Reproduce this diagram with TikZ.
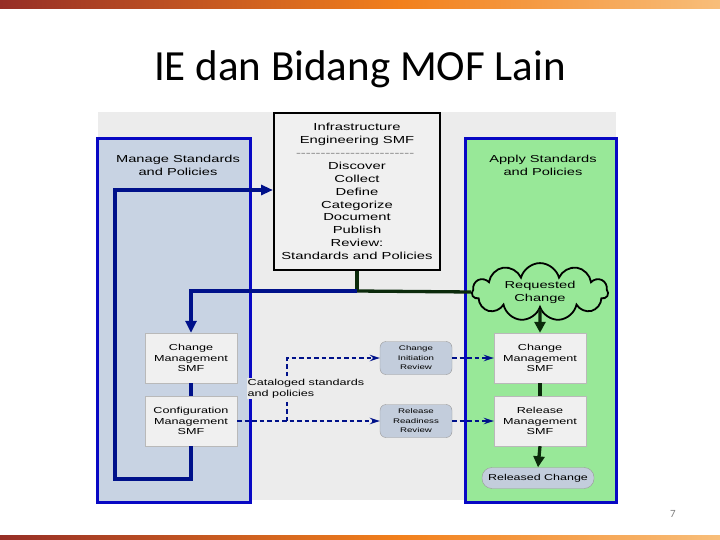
\documentclass[tikz,border=0pt]{standalone}
\usepackage{fontspec}
\usepackage{tikz}
\usetikzlibrary{shapes.symbols, arrows.meta, positioning, calc}
\usepackage{xcolor}
\newfontfamily\diagfont{Liberation Sans}[FakeStretch=1.45]
\newfontfamily\titlefont{Carlito}
\definecolor{bggray}{HTML}{ECECEC}
\definecolor{boxgray}{HTML}{F0F0F0}
\definecolor{lanefill}{HTML}{C8D3E3}
\definecolor{laneblue}{HTML}{0808C4}
\definecolor{flowblue}{HTML}{00118A}
\definecolor{applygreen}{HTML}{98E898}
\definecolor{darkgreen}{HTML}{0B2A0B}
\definecolor{reviewfill}{HTML}{C3CDDC}
\definecolor{barleft}{HTML}{962E26}
\definecolor{barmid}{HTML}{F2801C}
\definecolor{barright}{HTML}{F8BE7A}
\tikzstyle{lane} = [rectangle, draw=laneblue, line width=3pt]
\tikzstyle{smf} = [rectangle, draw=gray!55, fill=boxgray, minimum width=92pt, minimum height=50pt, align=center, inner sep=1pt, font=\diagfont\fontsize{8.7}{10.5}\selectfont]
\tikzstyle{review} = [rectangle, rounded corners=6pt, draw=gray!80, fill=reviewfill, minimum width=72pt, minimum height=33pt, align=center, inner sep=1pt, font=\diagfont\fontsize{6.7}{9.5}\selectfont]
\tikzstyle{flow} = [line width=3.3pt, flowblue]
\tikzstyle{greenflow} = [line width=3.3pt, darkgreen]
\tikzstyle{dashflow} = [line width=1.5pt, flowblue, dash pattern=on 4.5pt off 3pt, -{Stealth[length=10pt,width=6.5pt]}]

\begin{document}
\begin{tikzpicture}[x=1pt, y=-1pt, every node/.style={font=\diagfont\fontsize{10.1}{13}\selectfont}]
    \useasboundingbox (0,0) rectangle (720,540);
    % Slide bars
    \foreach \ya/\yb in {0/9, 535/540} {
        \fill[left color=barleft, right color=barmid] (0,\ya) rectangle (400,\yb);
        \fill[left color=barmid, right color=barright] (399.5,\ya) rectangle (720,\yb);
    }

    % Title
    \node[font=\titlefont\fontsize{43}{50}\selectfont] (title) at (360,69) {IE dan Bidang MOF Lain};

    % Background and swim lanes
    \fill[bggray] (98,112) rectangle (616,500);
    \draw[lane, fill=lanefill] (97,139) rectangle (250,502);
    \draw[lane, fill=applygreen] (465,139) rectangle (616,502);
    \node[align=center] (manage) at (178,165) {Manage Standards\\and Policies};
    \node[align=center] (apply) at (543,165) {Apply Standards\\and Policies};

    % Infrastructure Engineering SMF
    \node (ie) [rectangle, draw=black, line width=2pt, fill=boxgray, minimum width=166pt, minimum height=157pt, align=center, inner sep=2pt, font=\diagfont\fontsize{10.2}{12.9}\selectfont] at (357,191.5)
        {Infrastructure\\Engineering SMF\\{\color{gray}\hbox to 122pt{\leaders\hbox{-}\hfill}}\\Discover\\Collect\\Define\\Categorize\\Document\\Publish\\Review:\\Standards and Policies};

    % Left lane boxes
    \node (cms) [smf] at (191,358) {Change\\Management\\SMF};
    \node (cfg) [smf] at (191,421) {Configuration\\Management\\SMF};

    % Reviews
    \node (cir) [review] at (416,358) {Change\\Initiation\\Review};
    \node (rrr) [review] at (416,421) {Release\\Readiness\\Review};

    % Right lane boxes
    \node (req) [cloud, cloud puffs=11, aspect=4, draw=black, line width=1.8pt, fill=applygreen, minimum width=136pt, minimum height=36pt, inner sep=0pt, align=center] at (540,292) {Requested\\Change};
    \node (rcms) [smf] at (540,358) {Change\\Management\\SMF};
    \node (rms) [smf] at (540,421) {Release\\Management\\SMF};
    \node (rel) [rectangle, rounded corners=10pt, draw=gray!80, fill=reviewfill, minimum width=112pt, minimum height=21pt, inner sep=1pt, font=\diagfont\fontsize{8.6}{10}\selectfont] at (538,478) {Released Change};

    % Flows
    \coordinate (jn) at (357,291);
    \coordinate (lb) at (115,479);
    \coordinate (lt) at (115,190);
    \coordinate (split) at (287,421);
    \draw[greenflow] (ie.south) -- (jn);
    \draw[greenflow] (req.west) -- (jn);
    \draw[flow, -{Triangle[length=12pt,width=11pt]}] (jn) -| (cms.north);
    \draw[flow] (cms) -- (cfg);
    \draw[flow, -{Triangle[length=12pt,width=10pt]}] (cfg.south) |- (lb) -- (lt) -- (lt -| ie.west);
    \draw[dashflow] (cfg.east) -- (rrr.west);
    \draw[dashflow] (split) |- (cir.west);
    \draw[dashflow] (cir.east) -- (rcms.west);
    \draw[dashflow] (rrr.east) -- (rms.west);
    \draw[greenflow, -{Triangle[length=11pt,width=11pt]}] (req.south) -- (rcms.north);
    \draw[greenflow] (rcms) -- (rms);
    \draw[greenflow, -{Triangle[length=11pt,width=11pt]}] (rms.south) -- (rel.north);

    \node (catalog) [anchor=west, align=left, fill=bggray, inner sep=0.5pt, font=\diagfont\fontsize{8.7}{11}\selectfont] at (247,388.5) {Cataloged standards\\and policies};

    % Page number
    \node[text=gray, font=\titlefont\fontsize{11}{13}\selectfont] (pnum) at (673,514) {7};
\end{tikzpicture}
\end{document}
